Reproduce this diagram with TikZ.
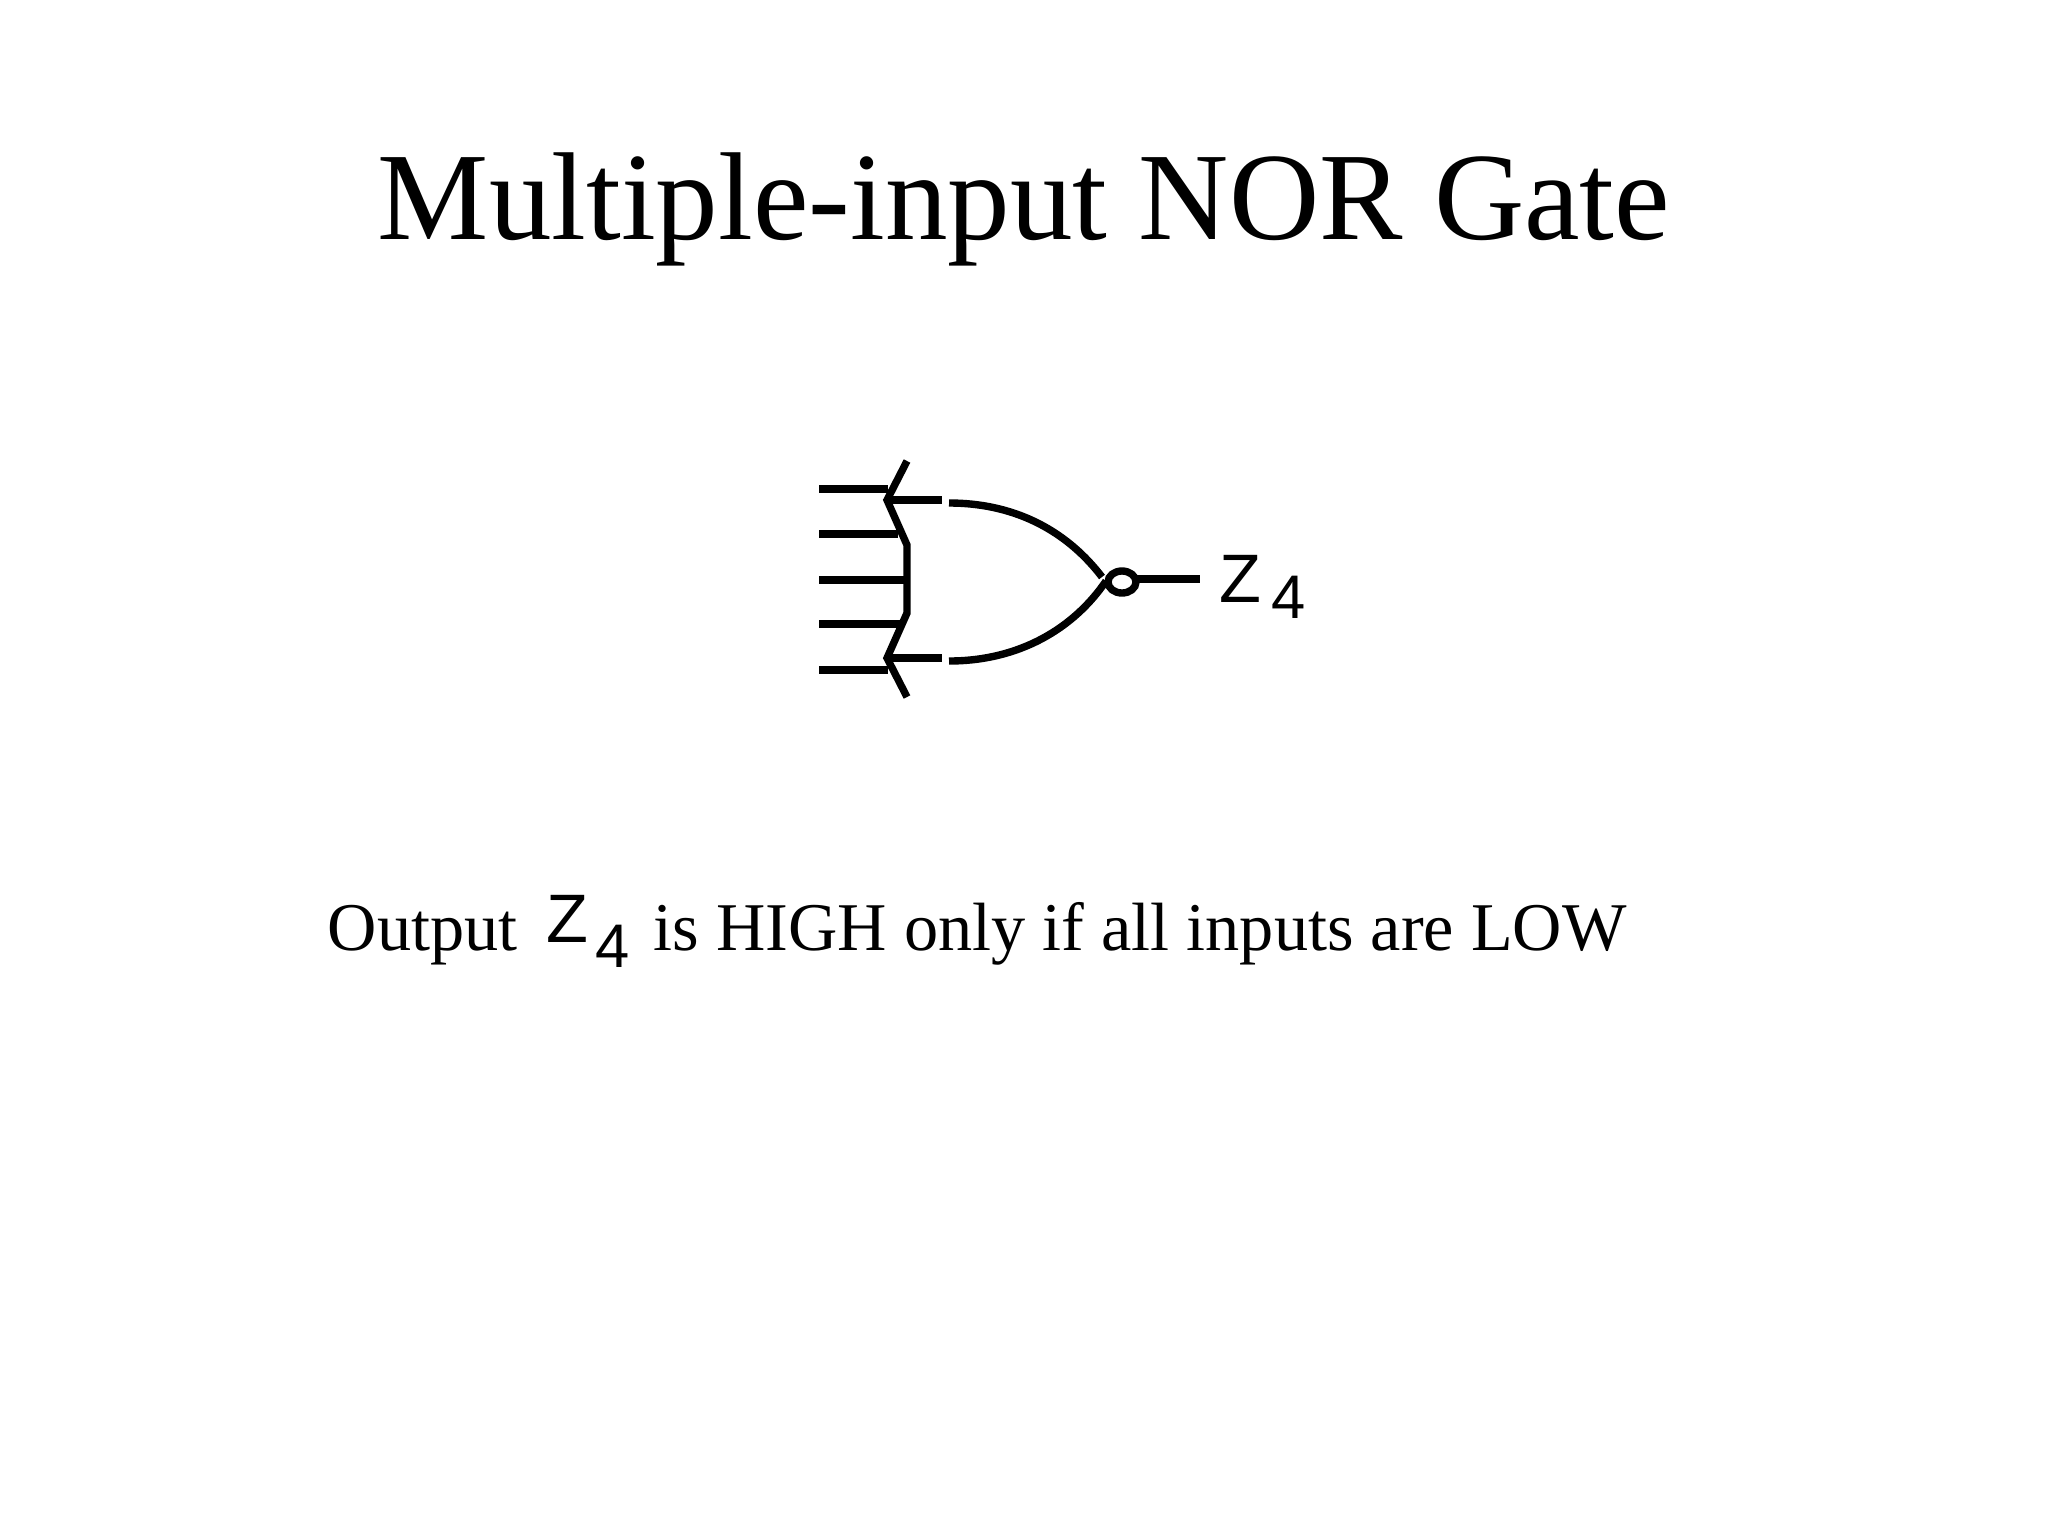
\documentclass[tikz,border=0pt]{standalone}
\usepackage{fontspec}
\setmainfont{Liberation Serif}
\newfontfamily\gatefont{Liberation Sans}
\usetikzlibrary{positioning}
\usetikzlibrary{shapes.geometric}

\begin{document}
\begin{tikzpicture}[
        x=0.01cm, y=-0.01cm,
        node distance=0.3cm,
        wire/.style={line width=2.1pt},
        title/.style={inner sep=0pt, anchor=base, font=\fontsize{35.56}{40}\selectfont},
        body/.style={inner sep=0pt, anchor=base west, font=\fontsize{19.42}{24}\selectfont},
        sym/.style={inner sep=0pt, anchor=base west, font=\gatefont\fontsize{19.5}{24}\selectfont},
        subsym/.style={inner sep=0pt, anchor=base west, font=\gatefont\fontsize{17.5}{24}\selectfont},
        bubble/.style={ellipse, draw, line width=2.1pt, inner sep=0pt, minimum width=0.28cm, minimum height=0.22cm}
        ]
        \useasboundingbox (0,0) rectangle (2048,1536);

        % Texts
        \node (heading) [title] at (1024,239) {Multiple-input NOR Gate};
        \node (output)  [body]  at (327,950) {Output};
        \node (bodyz)   [sym]   at (546,942) {Z};
        \node (bodyfour) [subsym] at (595,967) {4};
        \node (rest)    [body]  at (653,950) {is HIGH only if all inputs are LOW};

        % Gate points
        \coordinate (backtop)   at (907,461);
        \coordinate (notchtop)  at (887,500);
        \coordinate (bendtop)   at (907,545);
        \coordinate (bendlow)   at (907,613);
        \coordinate (notchlow)  at (887,658);
        \coordinate (backlow)   at (907,697);
        \coordinate (stubtop)   at (942,500);
        \coordinate (stublow)   at (942,658);
        \coordinate (curvetop)  at (949,503);
        \coordinate (curvelow)  at (949,661);
        \coordinate (tiptop)    at (1102,577);
        \coordinate (tiplow)    at (1106,581);
        \node (inv) [bubble] at (1122,582) {};
        \coordinate (outend)    at (1200,579);
        \node (gatez)    [sym]    at (1219,602) {Z};
        \node (gatefour) [subsym] at (1271,618) {4};

        % Inputs
        \coordinate (ina) at (819,489);
        \coordinate (inb) at (819,534);
        \coordinate (inc) at (819,580);
        \coordinate (ind) at (819,624);
        \coordinate (ine) at (819,670);
        \coordinate (enda) at (888,489);
        \coordinate (endb) at (898,534);
        \coordinate (endc) at (907,580);
        \coordinate (endd) at (902,624);
        \coordinate (ende) at (888,670);
        \draw[wire] (ina) -- (enda);
        \draw[wire] (inb) -- (endb);
        \draw[wire] (inc) -- (endc);
        \draw[wire] (ind) -- (endd);
        \draw[wire] (ine) -- (ende);

        % Gate body
        \draw[wire] (backtop) -- (notchtop) -- (bendtop) -- (bendlow) -- (notchlow) -- (backlow);
        \draw[wire] (notchtop) -- (stubtop);
        \draw[wire] (notchlow) -- (stublow);
        \draw[wire] (curvetop) .. controls (1020,503) and (1070,535) .. (tiptop);
        \draw[wire] (curvelow) .. controls (1020,661) and (1074,628) .. (tiplow);
        \draw[wire] ([xshift=-0.03cm]inv.east |- outend) -- (outend);

    \end{tikzpicture}
\end{document}
